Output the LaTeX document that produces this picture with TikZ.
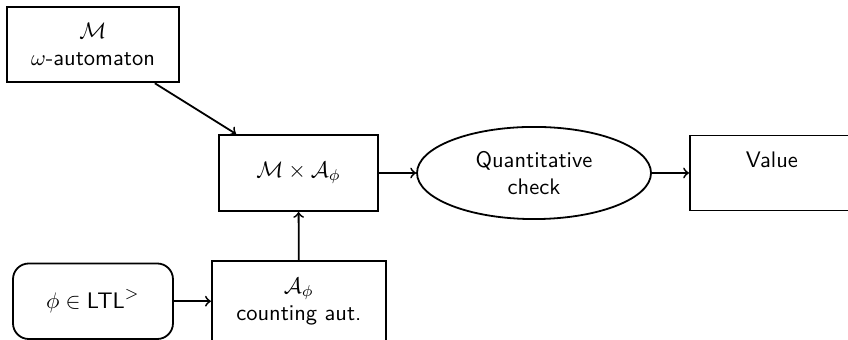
\documentclass[tikz,border=0pt]{standalone}
\usepackage{amsmath}
\usepackage{amssymb}
\usetikzlibrary{shapes.geometric,positioning}

\begin{document}
\begin{tikzpicture}[font=\sffamily, thick, >=to,
  blk/.style={draw, rectangle, align=center, minimum height=1.18cm},
  rnd/.style={blk, rounded corners=7pt}]
  \def\yt{2.594}\def\yb{0.59}
  \useasboundingbox (0,0) rectangle (13.25,5.297);

  % ===== inputs =====
  \node[blk,minimum width=2.69cm] (mdl) at (1.453,4.60) {$\mathcal{M}$\\ $\omega$-automaton};
  \node[rnd,minimum width=2.5cm] (phi) at (1.453,\yb) {$\phi \in \mathsf{LTL}^{>}$};
  \node[blk,minimum width=2.72cm,minimum height=1.26cm] (aut) at (4.67,\yb) {$\mathcal{A}_\phi$\\ counting aut.};

  % ===== main row =====
  \node[blk,minimum width=2.48cm,minimum height=1.19cm] (prod) at (4.664,\yt) {$\mathcal{M} \times \mathcal{A}_\phi$};
  \node[draw,ellipse,align=center,minimum width=3.656cm,minimum height=1.44cm,inner sep=0pt] (chk) at (8.344,\yt) {Quantitative\\ check};
  \node[blk,minimum width=2.56cm,minimum height=1.17cm] (val) at (12.06,\yt) {Value\\ ~};

  % ===== connectors =====
  \draw[->] (mdl) -- (prod);
  \draw[->] (phi) -- (aut);
  \draw[->] (aut) -- (prod);
  \draw[->] (prod) -- (chk);
  \draw[->] (chk) -- (val);
\end{tikzpicture}
\end{document}
